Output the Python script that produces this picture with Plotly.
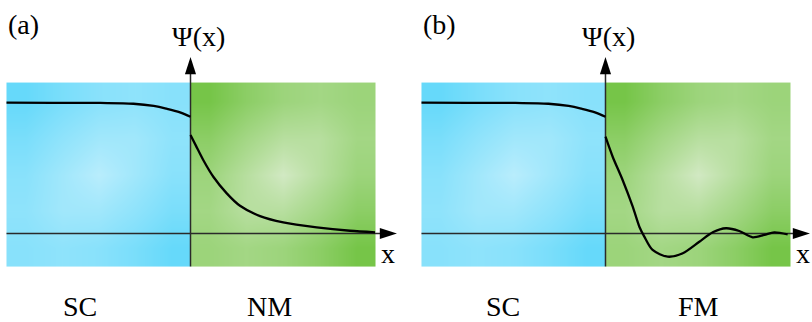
import plotly.graph_objects as go

# ---------------- data ----------------
# superconductor side (same in both panels), x in units of the region width
sc_x = [-1.0, -0.75, -0.49, -0.31, -0.20, -0.13, -0.057, 0.0]
sc_psi = [1.0, 0.999, 0.998, 0.992, 0.975, 0.954, 0.926, 0.893]

# normal metal side (panel a)
nm_x = [0.0, 0.03, 0.07, 0.124, 0.197, 0.269, 0.378, 0.504, 0.686, 0.867, 1.003]
nm_psi = [0.753, 0.67, 0.56, 0.434, 0.307, 0.212, 0.133, 0.085, 0.047, 0.021, 0.009]

# ferromagnet side (panel b)
fm_x = [0.0, 0.039, 0.093, 0.148, 0.184, 0.211, 0.256, 0.338, 0.42, 0.51,
        0.583, 0.655, 0.727, 0.80, 0.863, 0.917, 0.99]
fm_psi = [0.74, 0.587, 0.409, 0.205, 0.052, -0.024, -0.126, -0.177, -0.151, -0.063,
          0.009, 0.04, 0.019, -0.029, -0.011, 0.009, -0.006]

panel_tags = ["(a)", "(b)"]
region_labels = [["SC", "NM"], ["SC", "FM"]]
y_label = "Ψ(x)"
x_label = "x"

# background shading grid (rows bottom -> top; 0 = light centre, 1 = dark corner)
grad_z = [[0.59, 0.51, 0.58, 0.76, 1.00],
          [0.51, 0.29, 0.29, 0.50, 0.76],
          [0.58, 0.29, 0.00, 0.29, 0.58],
          [0.76, 0.50, 0.29, 0.29, 0.51],
          [1.00, 0.76, 0.58, 0.51, 0.59]]

# ---------------- geometry / style ----------------
RECT_X0, RECT_X1 = -1.0, 1.008
RECT_Y0, RECT_Y1 = -0.252, 1.154
X_TIP = [1.122, 1.111]
Y_TIP = 1.349
FONT = dict(family="Liberation Serif", size=28, color="black")

blue_scale = [[0, "#b9edfc"], [1, "#66d9fa"]]
green_scale = [[0, "#d2e9c3"], [1, "#76c548"]]


def edges(a, b, n=5):
    return [a + (b - a) * i / n for i in range(n + 1)]


fig = go.Figure()
xr = [[-1.0353, 1.1712], [-1.0842, 1.1223]]
yr = [-0.6766, 1.7852]

for p in range(2):
    xa = "x" if p == 0 else "x2"
    ya = "y" if p == 0 else "y2"
    # background regions
    fig.add_trace(go.Heatmap(z=grad_z, x=edges(RECT_X0, 0.0), y=edges(RECT_Y0, RECT_Y1),
                             colorscale=blue_scale, zmin=0, zmax=1, zsmooth="best",
                             showscale=False, hoverinfo="skip", xaxis=xa, yaxis=ya))
    fig.add_trace(go.Heatmap(z=grad_z, x=edges(0.0, RECT_X1), y=edges(RECT_Y0, RECT_Y1),
                             colorscale=green_scale, zmin=0, zmax=1, zsmooth="best",
                             showscale=False, hoverinfo="skip", xaxis=xa, yaxis=ya))
    # axes with arrows
    fig.add_trace(go.Scatter(x=[RECT_X0, X_TIP[p] - 0.03], y=[0, 0], mode="lines",
                             line=dict(color="#2a2a2a", width=1.3),
                             hoverinfo="skip", showlegend=False, xaxis=xa, yaxis=ya))
    fig.add_trace(go.Scatter(x=[0, 0], y=[RECT_Y0, Y_TIP - 0.04], mode="lines",
                             line=dict(color="#2a2a2a", width=1.5),
                             hoverinfo="skip", showlegend=False, xaxis=xa, yaxis=ya))
    fig.add_trace(go.Scatter(x=[X_TIP[p], 0], y=[0, Y_TIP], mode="markers",
                             marker=dict(symbol="arrow", size=18, color="black",
                                         angle=[90, 0], line=dict(width=0)),
                             hoverinfo="skip", showlegend=False, xaxis=xa, yaxis=ya))
    # order parameter
    fig.add_trace(go.Scatter(x=sc_x, y=sc_psi, mode="lines",
                             line=dict(color="black", width=2.3, shape="spline"),
                             hoverinfo="skip", showlegend=False, xaxis=xa, yaxis=ya))
    rx, ry = (nm_x, nm_psi) if p == 0 else (fm_x, fm_psi)
    fig.add_trace(go.Scatter(x=rx, y=ry, mode="lines",
                             line=dict(color="black", width=2.3, shape="spline", smoothing=0.8),
                             hoverinfo="skip", showlegend=False, xaxis=xa, yaxis=ya))

    # texts
    tx_tag = -0.905 if p == 0 else -0.90
    tx_psi = 0.041 if p == 0 else 0.019
    tx_sc = -0.601 if p == 0 else -0.557
    tx_r = 0.432 if p == 0 else 0.503
    for txt, x, y in [(panel_tags[p], tx_tag, 1.60), (y_label, tx_psi, 1.51),
                      (x_label, 1.073, -0.15),
                      (region_labels[p][0], tx_sc, -0.56), (region_labels[p][1], tx_r, -0.56)]:
        fig.add_annotation(text=txt, x=x, y=y, xref=xa, yref=ya, showarrow=False,
                           font=FONT, xanchor="center", yanchor="middle")

fig.update_layout(
    width=812, height=322, margin=dict(l=0, r=0, t=0, b=0),
    paper_bgcolor="white", plot_bgcolor="white", showlegend=False,
    xaxis=dict(domain=[0, 0.5], range=xr[0], visible=False, fixedrange=True),
    xaxis2=dict(domain=[0.5, 1], range=xr[1], visible=False, fixedrange=True, anchor="y2"),
    yaxis=dict(domain=[0, 1], range=yr, visible=False, fixedrange=True),
    yaxis2=dict(domain=[0, 1], range=yr, visible=False, fixedrange=True, anchor="x2"),
)

fig.write_html("out.html")
